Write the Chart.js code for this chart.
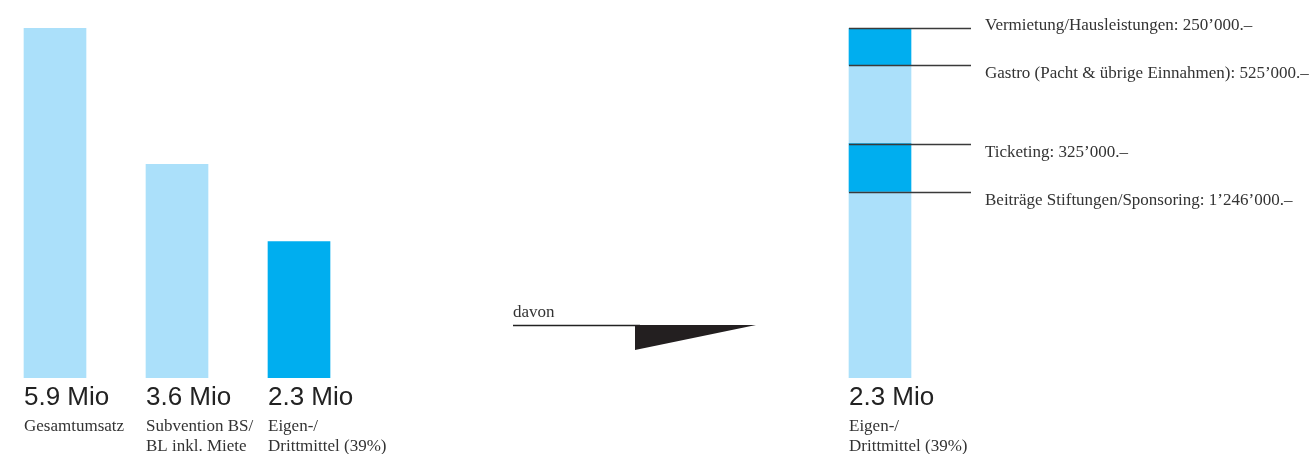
<!DOCTYPE html>
<html><head><meta charset="utf-8">
<script src="https://cdn.jsdelivr.net/npm/chart.js@4"></script>
<style>
html,body{margin:0;padding:0;background:#fff;width:1312px;height:454px;overflow:hidden;position:relative}
#c1{position:absolute;left:-6px;top:0}
#c2{position:absolute;left:818px;top:0}
</style></head><body>
<canvas id="c1" width="806" height="454"></canvas>
<canvas id="c2" width="494" height="454"></canvas>
<script>
// ---- data ----
const categories = [['Gesamtumsatz'], ['Subvention BS/', 'BL inkl. Miete'], ['Eigen-/', 'Drittmittel (39%)']];
const totalsMio = [5.9, 3.6, 2.3];
const totalLabels = ['5.9 Mio', '3.6 Mio', '2.3 Mio'];
const barColors = ['#abe0fa', '#abe0fa', '#00aeef'];

const splitCategory = ['Eigen-/', 'Drittmittel (39%)'];
const splitLabel = '2.3 Mio';
const partNames = ['Beiträge Stiftungen/Sponsoring', 'Ticketing', 'Gastro (Pacht & übrige Einnahmen)', 'Vermietung/Hausleistungen'];
const partValues = [1246000, 325000, 525000, 250000];
const partLabels = ['Beiträge Stiftungen/Sponsoring: 1’246’000.–', 'Ticketing: 325’000.–', 'Gastro (Pacht & übrige Einnahmen): 525’000.–', 'Vermietung/Hausleistungen: 250’000.–'];
const partColors = ['#abe0fa', '#00aeef', '#abe0fa', '#00aeef'];
const connectorText = 'davon';

// ---- styles ----
const SANS = '"Liberation Sans", Arial, sans-serif';
const SERIF = '"Liberation Serif", "Times New Roman", serif';
const numFont = '26px ' + SANS;
const txtFont = '17px ' + SERIF;
const partFont = '17px ' + SERIF;
const numColor = '#222';
const txtColor = '#333';

function drawBarCaption(ctx, left, value, lines) {
  ctx.save();
  ctx.textAlign = 'left';
  ctx.textBaseline = 'alphabetic';
  ctx.fillStyle = numColor;
  ctx.font = numFont;
  ctx.fillText(value, left, 405);
  ctx.fillStyle = txtColor;
  ctx.font = txtFont;
  lines.forEach((l, j) => ctx.fillText(l, left, 431 + j * 20));
  ctx.restore();
}

const leftPlugin = {
  id: 'leftCaptions',
  afterDraw(chart) {
    const ctx = chart.ctx;
    const meta = chart.getDatasetMeta(0);
    meta.data.forEach((bar, i) => {
      const left = bar.x - bar.width / 2;
      drawBarCaption(ctx, left, totalLabels[i], categories[i]);
    });
    // "davon" connector (decoration), page coords shifted by canvas offset 6px
    const o = 6;
    ctx.save();
    ctx.fillStyle = txtColor;
    ctx.font = '17px ' + SERIF;
    ctx.textBaseline = 'alphabetic';
    ctx.fillText(connectorText, 513 + o, 317);
    ctx.strokeStyle = '#222';
    ctx.lineWidth = 1.3;
    ctx.beginPath();
    ctx.moveTo(513 + o, 325.5);
    ctx.lineTo(640 + o, 325.5);
    ctx.stroke();
    ctx.fillStyle = '#231f20';
    ctx.beginPath();
    ctx.moveTo(635 + o, 325);
    ctx.lineTo(756 + o, 325);
    ctx.lineTo(635 + o, 350);
    ctx.closePath();
    ctx.fill();
    ctx.restore();
  }
};

new Chart(document.getElementById('c1'), {
  type: 'bar',
  data: {
    labels: categories.map(c => c.join(' ')),
    datasets: [{ data: totalsMio, backgroundColor: barColors, barThickness: 62, borderWidth: 0 }]
  },
  options: {
    responsive: false,
    animation: false,
    layout: { padding: { top: 28, bottom: 76, left: 0, right: 440 } },
    plugins: { legend: { display: false }, tooltip: { enabled: false } },
    scales: {
      x: { display: false },
      y: { display: false, min: 0, max: Math.max(...totalsMio) }
    }
  },
  plugins: [leftPlugin]
});

const rightPlugin = {
  id: 'rightCaptions',
  afterDraw(chart) {
    const ctx = chart.ctx;
    const ys = chart.scales.y;
    const bar = chart.getDatasetMeta(0).data[0];
    const left = bar.x - bar.width / 2;
    drawBarCaption(ctx, left, splitLabel, splitCategory);
    let cum = 0;
    const top = partValues.reduce((a, b) => a + b, 0);
    ctx.save();
    partValues.forEach((v, i) => {
      cum += v;
      const y = Math.round(ys.getPixelForValue(cum)) + 0.5;
      ctx.strokeStyle = '#3a3a3a';
      ctx.lineWidth = 1.4;
      ctx.beginPath();
      ctx.moveTo(left, y);
      ctx.lineTo(left + 122, y);
      ctx.stroke();
      ctx.fillStyle = txtColor;
      ctx.font = partFont;
      ctx.textAlign = 'left';
      ctx.textBaseline = 'alphabetic';
      const ty = cum === top ? y + 1 : y + 12.5;
      ctx.fillText(partLabels[i], left + 136, ty);
    });
    ctx.restore();
  }
};

new Chart(document.getElementById('c2'), {
  type: 'bar',
  data: {
    labels: [splitCategory.join(' ')],
    datasets: partValues.map((v, i) => ({
      label: partNames[i], data: [v], backgroundColor: partColors[i], barThickness: 62, borderWidth: 0
    }))
  },
  options: {
    responsive: false,
    animation: false,
    layout: { padding: { top: 28, bottom: 76, left: 0, right: 370 } },
    plugins: { legend: { display: false }, tooltip: { enabled: false } },
    scales: {
      x: { display: false, stacked: true },
      y: { display: false, stacked: true, min: 0, max: partValues.reduce((a, b) => a + b, 0) }
    }
  },
  plugins: [rightPlugin]
});
</script>
</body></html>
